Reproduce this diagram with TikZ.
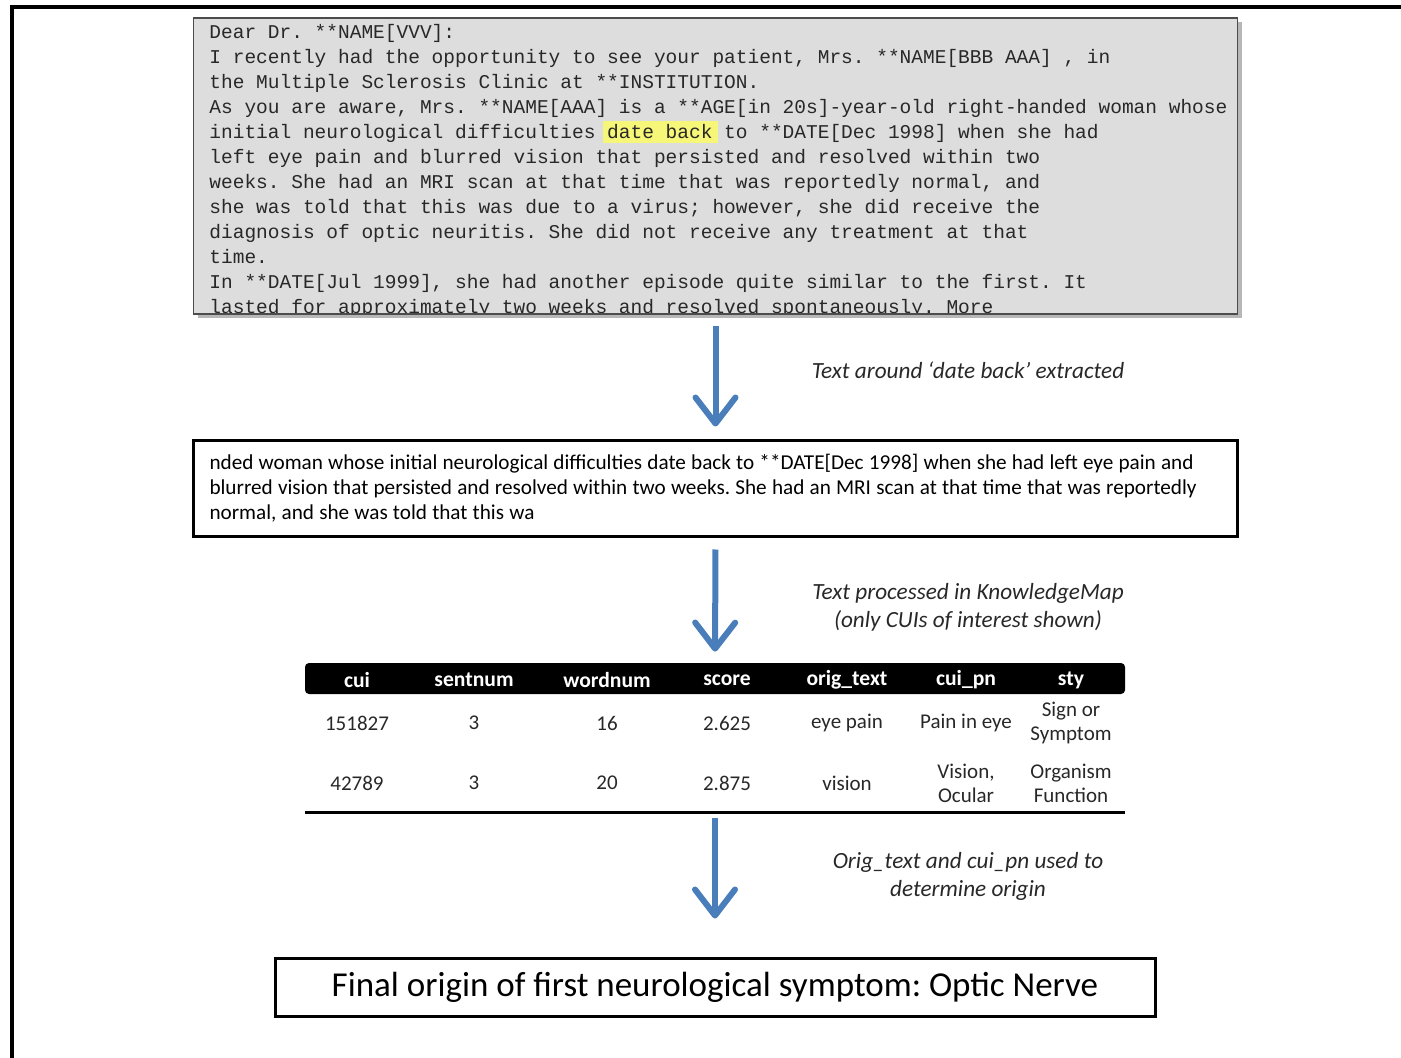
\documentclass[tikz,border=0pt]{standalone}
\usepackage{fontspec}
\setmainfont{Carlito}
\newfontfamily\monofont{Liberation Mono}
\usetikzlibrary{calc, arrows.meta, positioning, shadows}

\definecolor{flowblue}{RGB}{74,126,187}
\definecolor{lettergray}{RGB}{221,221,221}
\definecolor{markyellow}{RGB}{246,246,120}
\definecolor{inkgray}{RGB}{40,40,40}

\newcommand\tightspaces{\frenchspacing\spaceskip=2.6pt\relax}

\tikzset{
  flow/.style={draw=flowblue, line width=3pt, -{Straight Barb[length=13pt,width=20pt,round]}},
  note/.style={font=\fontsize{11.6}{14}\selectfont\itshape, text=inkgray, align=center},
  cell/.style={font=\fontsize{10.5}{12}\selectfont, text=inkgray, align=center, inner sep=0pt},
  headcell/.style={font=\fontsize{10.8}{12}\selectfont\bfseries, text=white, inner sep=0pt},
  boxed/.style={draw=black, line width=1.5pt, fill=white}
}

\begin{document}
\frenchspacing
\begin{tikzpicture}[x=0.5pt, y=-0.5pt]
  \useasboundingbox (0,0) rectangle (1401,1058);
  % outer frame
  \draw[line width=2pt] (12,1058) -- (12,7) -- (1401,7);

  % letter
  \node[draw=gray!60!black, line width=0.8pt, fill=lettergray,
        minimum width=522pt, minimum height=148pt,
        drop shadow={shadow xshift=2pt, shadow yshift=-2pt, opacity=0.4, fill=black!70}]
        (letter) at (715.5,166) {};
  \fill[markyellow] (603,121) rectangle (718,143);
  \begin{scope}
    \clip (194,19) rectangle (1237,313);
    \foreach \ln [count=\i] in {
      {Dear Dr. **NAME[VVV]:},
      {I recently had the opportunity to see your patient, Mrs. **NAME[BBB AAA] , in},
      {the Multiple Sclerosis Clinic at **INSTITUTION.},
      {As you are aware, Mrs. **NAME[AAA] is a **AGE[in 20s]-year-old right-handed woman whose},
      {initial neurological difficulties date back to **DATE[Dec 1998] when she had},
      {left eye pain and blurred vision that persisted and resolved within two},
      {weeks. She had an MRI scan at that time that was reportedly normal, and},
      {she was told that this was due to a virus; however, she did receive the},
      {diagnosis of optic neuritis. She did not receive any treatment at that},
      {time.},
      {In **DATE[Jul 1999], she had another episode quite similar to the first. It},
      {lasted for approximately two weeks and resolved spontaneously. More}}
      \node[anchor=base west, inner sep=0pt, text=inkgray,
            font=\monofont\fontsize{9.75}{12.5}\selectfont]
            (l\i) at (209,{39+25*(\i-1)}) {\ln};
  \end{scope}

  % extracted text
  \node[boxed, minimum width=522pt, minimum height=47.5pt, text width=506pt,
        align=left, text=black, font=\fontsize{10.6}{12.5}\selectfont]
        (excerpt) at (715.5,488.5)
        {\tightspaces nded woman whose initial neurological difficulties date back to **DATE[Dec 1998] when she had left eye pain and\\
         blurred vision that persisted and resolved within two weeks. She had an MRI scan at that time that was reportedly\\
         normal, and she was told that this wa};

  % table
  \node[fill=black, rounded corners=2pt, minimum width=410pt, minimum height=15.5pt,
        inner sep=0pt] (hdr) at (715,678.5) {};
  \foreach \x/\h/\a/\b [count=\j] in {
      357/cui/151827/42789,
      474/sentnum/3/3,
      607/wordnum/16/20,
      727/score/2.625/2.875,
      847/orig\_text/eye pain/vision,
      966/cui\_pn/Pain in eye/{Vision,\\Ocular},
      1071/sty/{Sign or\\Symptom}/{Organism\\Function}} {
    \node[headcell] (h\j) at (\x,680) {\h};
    \node[cell] (r1c\j) at (\x,723) {\a};
    \node[cell] (r2c\j) at (\x,783) {\b};
  }
  \coordinate (ruleL) at (305,812);
  \coordinate (ruleR) at (1125,812);
  \draw[line width=1.5pt] (ruleL) -- (ruleR);
  \coordinate (rulemid) at ($(ruleL)!0.5!(ruleR)$);

  % result
  \node[boxed, minimum width=440pt, minimum height=29pt,
        font=\fontsize{17.5}{20}\selectfont, text=black]
        (final) at (715,987) {Final origin of first neurological symptom: Optic Nerve};

  % flow arrows
  \draw[flow, shorten <=5.5pt, shorten >=6.5pt] (letter.south) -- (excerpt.north);
  \draw[flow, shorten <=6pt, shorten >=5.5pt] (excerpt.south) -- (hdr.north);
  \draw[flow, shorten <=3pt, shorten >=19pt] (rulemid) -- (final.north);

  % notes
  \node[note] (n1) at (968,370) {Text around ‘date back’ extracted};
  \node[note] (n2) at (968,607) {Text processed in KnowledgeMap\\(only CUIs of interest shown)};
  \node[note] (n3) at (968,876) {Orig\_text and cui\_pn used to\\determine origin};
\end{tikzpicture}
\end{document}
